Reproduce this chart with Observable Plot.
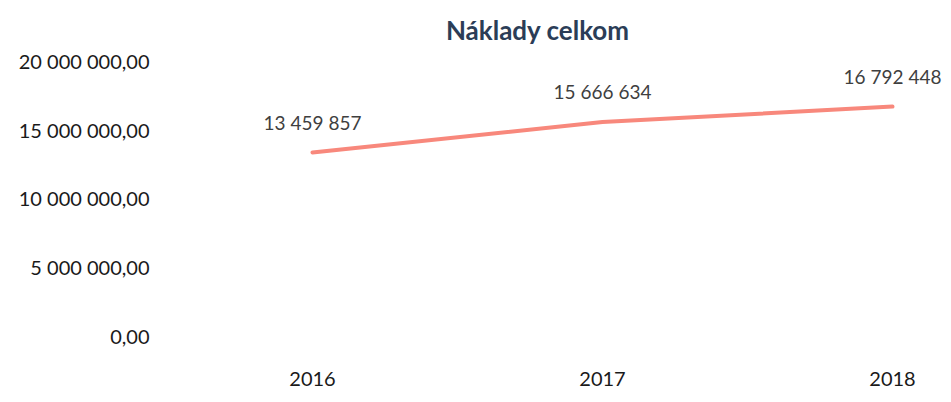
<!DOCTYPE html>
<html>
<head>
<meta charset="utf-8">
<script src="https://cdn.jsdelivr.net/npm/d3@7"></script>
<script src="https://cdn.jsdelivr.net/npm/@observablehq/plot@0.6"></script>
<style>
  html, body { margin: 0; padding: 0; background: #fff; }
  #title { height: 50px; line-height: 60px; width: 951px; box-sizing: border-box; padding-left: 124px; text-align: center;
    font-family: Lato, "Open Sans", sans-serif; font-weight: 700; font-size: 26px; color: #2b3d57; }
  #chart svg { display: block; }
</style>
</head>
<body>
<div id="title">Náklady celkom</div>
<div id="chart"></div>
<script>
const years = ["2016", "2017", "2018"];
const costs = [13459857, 15666634, 16792448];
const yTicks = [0, 5000000, 10000000, 15000000, 20000000];

const locale = d3.formatLocale({decimal: ",", thousands: " ", grouping: [3], currency: ["", ""]});
const fmtAxis = locale.format(",.2f");
const fmtLabel = locale.format(",d");

const data = years.map((y, i) => ({year: y, value: costs[i]}));

const chart = Plot.plot({
  width: 951,
  height: 352,
  marginTop: 12,
  marginBottom: 65,
  marginLeft: 155,
  marginRight: 20,
  style: {fontFamily: "Lato, 'Open Sans', sans-serif", background: "#fff", color: "#1a1a1a"},
  x: {type: "point", domain: years, range: [312, 892], padding: 0, label: null},
  y: {domain: [0, 20000000], label: null},
  marks: [
    Plot.axisY({ticks: yTicks, tickFormat: fmtAxis, tickSize: 0, tickPadding: 6, fontSize: 20, label: null}),
    Plot.axisX({tickSize: 0, tickPadding: 34, fontSize: 20, label: null}),
    Plot.line(data, {x: "year", y: "value", stroke: "#f8887c", strokeWidth: 4}),
    Plot.text(data, {x: "year", y: "value", text: d => fmtLabel(d.value), dy: -29, fontSize: 19, fill: "#3f3f3f"})
  ]
});
document.getElementById("chart").appendChild(chart);
</script>
</body>
</html>
